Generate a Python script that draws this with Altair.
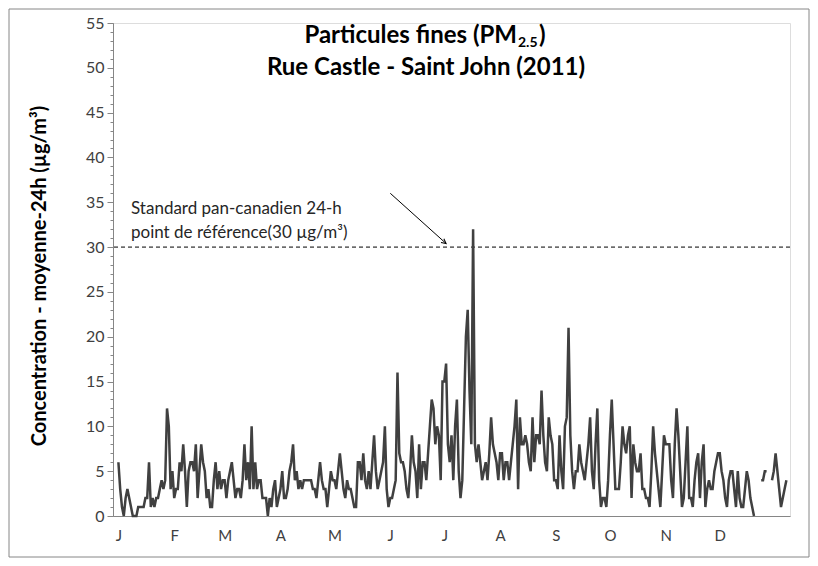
import altair as alt
import pandas as pd

# ---- data (daily 24-h mean PM2.5) ----
jan = [6, 3, 1, 0, 2, 3, 2, 1, 0, 0, 0, 1, 1, 1, 1, 2, 2, 6, 1, 2, 1, 2, 2, 3, 4, 3, 4, 12, 10, 3, 5]
feb = [2, 3, 3, 6, 5, 8, 5, 1, 5, 6, 6, 5, 8, 2, 5, 8, 6, 5, 2, 3, 1, 1, 4, 6, 3, 5, 3, 4]
mar = [4, 2, 4, 5, 6, 4, 2, 3, 3, 2, 4, 8, 4, 6, 3, 10, 3, 6, 3, 4, 4, 2, 2, 2, 0, 2, 1, 3, 4, 1, 2]
apr = [3, 5, 2, 2, 3, 5, 6, 8, 4, 5, 3, 4, 3, 4, 4, 4, 4, 4, 3, 3, 2, 4, 6, 4, 3, 3, 1, 3, 5, 4]
may = [4, 3, 5, 7, 5, 3, 2, 4, 3, 3, 2, 1, 1, 6, 6, 4, 7, 4, 3, 5, 3, 6, 9, 5, 3, 4, 5, 6, 10, 3, 1]
jun = [2, 2, 3, 4, 16, 7, 6, 6, 5, 3, 2, 5, 9, 6, 5, 2, 8, 3, 6, 6, 4, 7, 10, 13, 12, 8, 10, 9, 4, 15]
jul = [15, 17, 8, 6, 9, 4, 10, 13, 5, 2, 4, 12, 20, 23, 14, 8, 32, 8, 6, 8, 6, 4, 5, 6, 4, 7, 11, 8, 7, 6, 4]
aug = [7, 7, 4, 6, 6, 4, 6, 8, 10, 13, 3, 11, 8, 8, 9, 8, 6, 5, 11, 6, 9, 9, 8, 14, 9, 6, 5, 11, 9, 8, 4]
sep = [4, 3, 9, 5, 3, 10, 11, 21, 9, 5, 3, 5, 5, 8, 6, 5, 4, 6, 8, 11, 5, 3, 8, 12, 4, 1, 2, 2, 1, 4]
oct_ = [9, 13, 8, 3, 3, 3, 6, 10, 8, 7, 9, 10, 2, 8, 6, 5, 5, 7, 3, 3, 2, 2, 1, 5, 10, 7, 5, 3, 1, 5, 9]
nov = [8, 8, 8, 4, 2, 8, 12, 9, 5, 1, 2, 6, 10, 2, 2, 1, 4, 6, 7, 2, 6, 8, 1, 3, 4, 3, 3, 5, 6, 7]
dec = [7, 5, 4, 2, 1, 4, 5, 5, 3, 1, 5, 2, 1, 1, 3, 5, 4, 2, 1, 0, None, None, None, 4, 4, 5, 5,
       None, None, 4, 5]
tail = [7, 5, 3, 1, 2, 3, 4]

month_starts = [0, 31, 59, 90, 120, 151, 181, 212, 243, 273, 304, 334]
month_labels = ["J", "F", "M", "A", "M", "J", "J", "A", "S", "O", "N", "D"]
y_major = [0, 5, 10, 15, 20, 25, 30, 35, 40, 45, 50, 55]
y_minor = list(range(0, 56))

reference_value = 30
annotation_lines = ["Standard pan-canadien 24-h", "point de référence(30 µg/m³)"]
annotation_day = [7, 7]
annotation_y = [34.2, 31.6]
arrow_day = [151, 182]
arrow_val = [36.0, 30.4]

title_main = "Particules fines (PM"
title_sub = "2.5"
title_close = ")"
title_line2 = "Rue Castle - Saint John (2011)"
y_title = "Concentration - moyenne-24h (µg/m³)"

values = jan + feb + mar + apr + may + jun + jul + aug + sep + oct_ + nov + dec + tail
df = pd.DataFrame({"day": list(range(len(values))), "pm": values})

FONT = "Lato"
W, H = 677, 493
L, T, R, B = 105, 15, 20, 42

x_scale = alt.Scale(domain=[-3, 373], nice=False, zero=False)
y_scale = alt.Scale(domain=[0, 55], nice=False, zero=True)

starts_js = "[" + ",".join(str(v) for v in month_starts) + "]"
labels_js = "[" + ",".join("'" + v + "'" for v in month_labels) + "]"
x_label_expr = labels_js + "[indexof(" + starts_js + ", datum.value)]"

x_axis = alt.Axis(values=month_starts, labelExpr=x_label_expr, ticks=False,
                  domainColor="#868686", domainWidth=1, labelFontSize=15,
                  labelColor="#404040", labelFont=FONT, labelPadding=12,
                  title=None, grid=False)

line = alt.Chart(df).mark_line(color="#404040", strokeWidth=2.5).encode(
    x=alt.X("day:Q", scale=x_scale, axis=x_axis),
    y=alt.Y("pm:Q", scale=y_scale,
            axis=alt.Axis(orient="left", values=y_major, tickSize=6, tickColor="#868686",
                          domainColor="#868686", labelFontSize=16, labelColor="#404040",
                          labelFont=FONT, labelPadding=3, grid=False,
                          title=y_title, titleFont=FONT, titleFontSize=20,
                          titleFontWeight="bold", titleColor="#000000",
                          titleAngle=-90, titleX=-64, titleY=H / 2 + 6,
                          titleAlign="center")),
)

minor = alt.Chart(df).mark_point(opacity=0).encode(
    x=alt.X("day:Q", scale=x_scale, axis=x_axis),
    y=alt.Y("pm:Q", scale=y_scale,
            axis=alt.Axis(orient="left", values=y_minor, labels=False, domain=False,
                          tickSize=3, tickColor="#868686", title=None, grid=False)),
)

ref_df = pd.DataFrame({"y": [reference_value]})
ref = alt.Chart(ref_df).mark_rule(color="#000000", strokeWidth=1, strokeDash=[4, 3]).encode(
    y=alt.Y("y:Q", scale=y_scale, axis=None)
)

ann_df = pd.DataFrame({"day": annotation_day, "v": annotation_y, "t": annotation_lines})
ann = alt.Chart(ann_df).mark_text(align="left", baseline="middle", fontSize=17,
                                  font=FONT, color="#262626").encode(
    x=alt.X("day:Q", scale=x_scale, axis=x_axis),
    y=alt.Y("v:Q", scale=y_scale, axis=None),
    text="t:N",
)

arrow_df = pd.DataFrame({"day": arrow_day, "v": arrow_val})
arrow_line = alt.Chart(arrow_df).mark_line(color="#000000", strokeWidth=1).encode(
    x=alt.X("day:Q", scale=x_scale, axis=x_axis),
    y=alt.Y("v:Q", scale=y_scale, axis=None),
)
head_df = pd.DataFrame({"day": [arrow_day[1]], "v": [arrow_val[1]]})
arrow_head = alt.Chart(head_df).mark_point(
    shape="M -0.6 1.2 L 0 0 L 0.6 1.2", filled=False, color="#000000",
    strokeWidth=1, size=60, angle=128, opacity=1
).encode(
    x=alt.X("day:Q", scale=x_scale, axis=x_axis),
    y=alt.Y("v:Q", scale=y_scale, axis=None),
)

t1 = alt.Chart(pd.DataFrame({"t": [title_main]})).mark_text(
    align="right", baseline="middle", fontSize=24, fontWeight="bold", font=FONT,
    color="#000000").encode(x=alt.value(404), y=alt.value(13), text="t:N")
t1s = alt.Chart(pd.DataFrame({"t": [title_sub]})).mark_text(
    align="left", baseline="middle", fontSize=14, fontWeight="bold", font=FONT,
    color="#000000").encode(x=alt.value(405), y=alt.value(20), text="t:N")
t1c = alt.Chart(pd.DataFrame({"t": [title_close]})).mark_text(
    align="left", baseline="middle", fontSize=24, fontWeight="bold", font=FONT,
    color="#000000").encode(x=alt.value(426), y=alt.value(13), text="t:N")
t2 = alt.Chart(pd.DataFrame({"t": [title_line2]})).mark_text(
    align="center", baseline="middle", fontSize=24, fontWeight="bold", font=FONT,
    color="#000000").encode(x=alt.value(313), y=alt.value(45), text="t:N")

border = alt.Chart(pd.DataFrame({"a": [0]})).mark_rect(
    fillOpacity=0, stroke="#868686", strokeWidth=1
).encode(x=alt.value(-104), x2=alt.value(W + 19), y=alt.value(-14), y2=alt.value(H + 41))

chart = alt.layer(
    border, minor, ref, line, ann, arrow_line, arrow_head, t1, t1s, t1c, t2
).resolve_axis(y="independent").properties(
    width=W, height=H,
    autosize=alt.AutoSizeParams(type="none"),
    padding={"left": L, "top": T, "right": R, "bottom": B},
).configure_view(stroke="transparent").configure(background="white")

chart.save("out.html", embed_options={"renderer": "svg", "actions": False})
